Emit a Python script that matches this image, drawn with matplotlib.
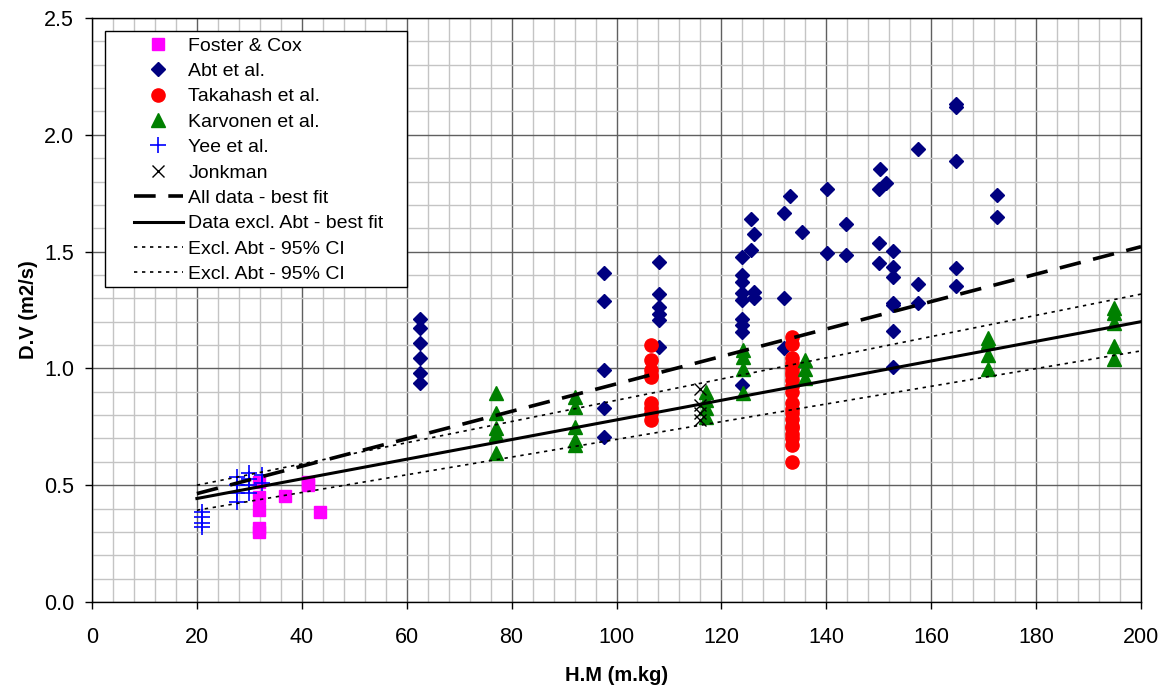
import matplotlib
matplotlib.use("Agg")
import matplotlib.pyplot as plt
from matplotlib.ticker import MultipleLocator
from matplotlib.patches import Rectangle

plt.rcParams['font.family'] = ['Liberation Sans', 'DejaVu Sans']

# ---- data ----
foster_x = [31.9, 31.9, 31.9, 31.9, 31.9, 36.8, 41.2, 41.2, 43.4]
foster_y = [0.515, 0.451, 0.394, 0.317, 0.300, 0.454, 0.515, 0.500, 0.387]

abt_x = [62.5, 62.5, 62.5, 62.5, 62.5, 62.5,
         97.7, 97.7, 97.7, 97.7, 97.7,
         108.1, 108.1, 108.1, 108.1, 108.1, 108.1,
         124.0, 124.0, 124.0, 124.0, 124.0, 124.0, 124.0, 124.0, 124.0,
         125.7, 126.3, 125.7, 126.3, 126.3,
         132.0, 133.1, 132.0, 132.0, 135.4,
         140.2, 140.2, 143.8, 143.8,
         150.0, 150.3, 151.4, 150.0, 150.0,
         152.7, 152.7, 152.7, 152.7, 152.7, 152.7, 152.7,
         157.5, 157.5, 157.5,
         164.7, 164.7, 164.7, 164.7, 164.7,
         172.6, 172.6]
abt_y = [1.210, 1.172, 1.110, 1.046, 0.979, 0.936,
         1.407, 1.290, 0.993, 0.829, 0.705,
         1.457, 1.318, 1.262, 1.235, 1.207, 1.093,
         1.476, 1.400, 1.371, 1.324, 1.293, 1.210, 1.186, 1.157, 0.929,
         1.640, 1.575, 1.507, 1.328, 1.300,
         1.667, 1.738, 1.303, 1.089, 1.584,
         1.767, 1.493, 1.620, 1.484,
         1.767, 1.855, 1.792, 1.538, 1.453,
         1.504, 1.435, 1.390, 1.281, 1.270, 1.161, 1.007,
         1.941, 1.361, 1.281,
         2.130, 2.120, 1.888, 1.431, 1.354,
         1.744, 1.647]

taka_x = [106.5] * 9 + [133.5] * 20
taka_y = [1.100, 1.038, 0.993, 0.970, 0.962, 0.853, 0.831, 0.810, 0.781,
          1.135, 1.104, 1.043, 1.021, 1.000, 0.985, 0.971, 0.950, 0.925, 0.900,
          0.850, 0.828, 0.807, 0.785, 0.753, 0.743, 0.721, 0.700, 0.672, 0.600]

karv_x = [77.0] * 5 + [92.1] * 5 + [117.0] * 4 + [124.1] * 4 + [136.0] * 3 + \
         [170.9] * 4 + [194.9] * 5
karv_y = [0.895, 0.807, 0.743, 0.718, 0.636,
          0.878, 0.836, 0.750, 0.693, 0.674,
          0.900, 0.864, 0.829, 0.793,
          1.078, 1.050, 0.996, 0.895,
          1.036, 0.996, 0.957,
          1.128, 1.114, 1.057, 0.996,
          1.257, 1.236, 1.195, 1.096, 1.039]

yee_x = [20.9] * 4 + [27.6] * 4 + [30.0] * 4 + [32.5] * 2
yee_y = [0.387, 0.363, 0.340, 0.320,
         0.536, 0.500, 0.468, 0.430,
         0.551, 0.525, 0.500, 0.465,
         0.544, 0.511]

jonk_x = [116.0, 116.0, 116.0, 116.0]
jonk_y = [0.910, 0.845, 0.810, 0.779]

fit_x = [20, 200]
all_fit_y = [0.464, 1.521]
excl_fit_y = [0.443, 1.200]
ci_upper_y = [0.500, 1.318]
ci_lower_y = [0.393, 1.075]

xticks = [0, 20, 40, 60, 80, 100, 120, 140, 160, 180, 200]
yticks = [0.0, 0.5, 1.0, 1.5, 2.0, 2.5]

# ---- figure ----
W, H = 1170, 685
fig = plt.figure(figsize=(W / 100, H / 100), dpi=100)
ax = fig.add_axes([92 / W, 1 - 602 / H, (1141 - 92) / W, (602 - 18) / H])

ax.set_xlim(0, 200)
ax.set_ylim(0, 2.5)
ax.set_xticks(xticks)
ax.set_yticks(yticks)
ax.set_yticklabels([f"{v:.1f}" for v in yticks])
ax.xaxis.set_minor_locator(MultipleLocator(4))
ax.yaxis.set_minor_locator(MultipleLocator(0.1))
ax.grid(which='minor', color='#c4c4c4', linewidth=1.0, zorder=0)
ax.grid(which='major', color='#606060', linewidth=1.0, zorder=0)
ax.set_axisbelow(True)
ax.tick_params(which='major', direction='out', length=5, width=1, labelsize=15.5,
               colors='black')
ax.tick_params(which='minor', length=0)
ax.tick_params(axis='x', pad=13)
ax.tick_params(axis='y', pad=8)
for s in ax.spines.values():
    s.set_color('black')
    s.set_linewidth(1.0)

ax.plot(foster_x, foster_y, 's', color='#ff00ff', ms=9, mec='#ff00ff',
        label='Foster & Cox', zorder=3)
ax.plot(abt_x, abt_y, 'D', color='#000080', ms=7, mec='#000080',
        label='Abt et al.', zorder=3)
ax.plot(taka_x, taka_y, 'o', color='#ff0000', ms=9.5, mec='#ff0000',
        label='Takahash et al.', zorder=3)
ax.plot(karv_x, karv_y, '^', color='#008000', ms=9.5, mec='#008000',
        label='Karvonen et al.', zorder=3)
ax.plot(yee_x, yee_y, '+', color='#0000ff', ms=11, mew=1.2,
        label='Yee et al.', zorder=3)
ax.plot(jonk_x, jonk_y, 'x', color='black', ms=9, mew=1.0,
        label='Jonkman', zorder=3)

ax.plot(fit_x, all_fit_y, color='black', lw=2.6, dashes=(6, 3.5),
        label='All data - best fit', zorder=4)
ax.plot(fit_x, excl_fit_y, color='black', lw=2.2, ls='-',
        label='Data excl. Abt - best fit', zorder=4)
ax.plot(fit_x, ci_upper_y, color='black', lw=1.2, dashes=(2, 2.8),
        label='Excl. Abt - 95% CI', zorder=4)
ax.plot(fit_x, ci_lower_y, color='black', lw=1.2, dashes=(2, 2.8),
        label='Excl. Abt - 95% CI', zorder=4)

ax.set_xlabel('H.M (m.kg)', fontsize=14.5, fontweight='bold', labelpad=13)
ax.set_ylabel('D.V (m2/s)', fontsize=14.5, fontweight='bold', labelpad=4)

# legend box (frame drawn separately to match the wide left padding)
box = Rectangle((105 / W, 1 - 287 / H), (407 - 105) / W, (287 - 31) / H,
                transform=fig.transFigure, facecolor='white', edgecolor='black',
                linewidth=1.0, zorder=5)
fig.add_artist(box)
leg = ax.legend(loc='upper left', bbox_to_anchor=(134 / W, 1 - 37 / H),
                bbox_transform=fig.transFigure, fontsize=14, frameon=False,
                handlelength=2.5, handletextpad=0.3, labelspacing=0.40,
                borderpad=0, borderaxespad=0)
leg.set_zorder(6)
fig.add_artist(leg)

fig.savefig('out.png', dpi=100)
